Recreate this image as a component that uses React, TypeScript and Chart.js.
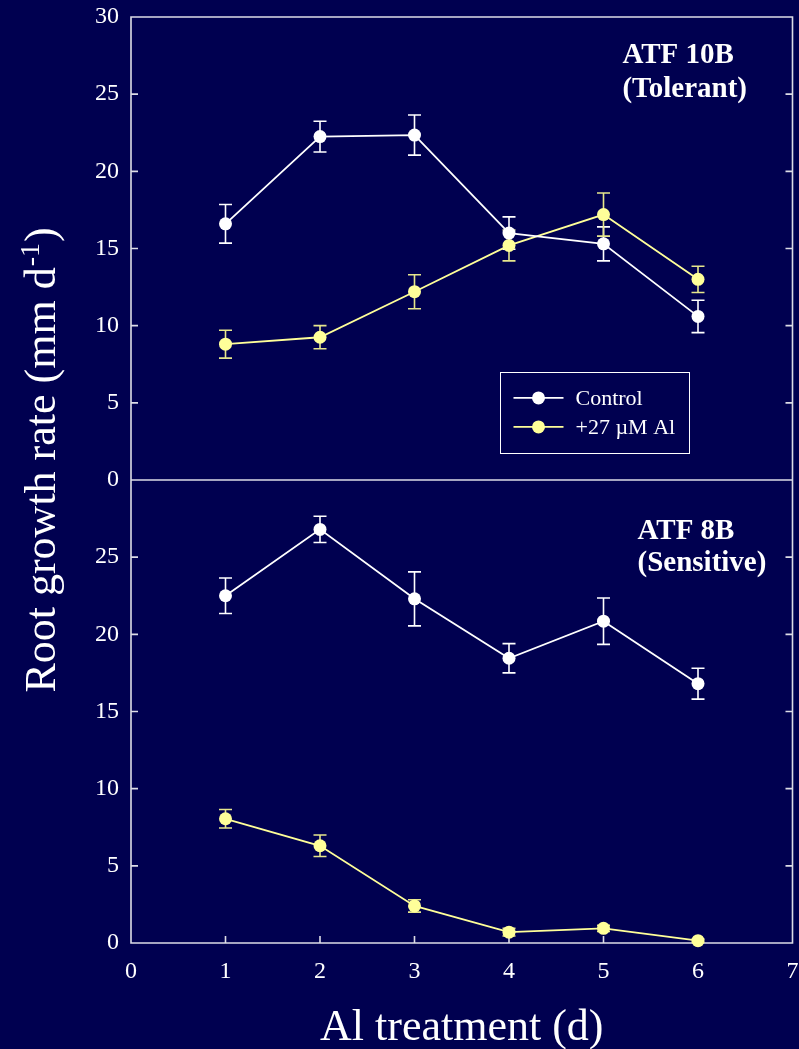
import React, { useEffect, useRef } from 'react';
import { Chart, registerables } from 'chart.js';

Chart.register(...registerables);

const BG = '#000050';
const WHITE = '#ffffff';
const FRAME = '#dcdce6';
const YELLOW = '#ffff99';
const YELLOW_BAR = '#e6e68c';
const FONT = '"Liberation Serif", "Times New Roman", Times, serif';

// ---- data ----
const days = [1, 2, 3, 4, 5, 6];
const xTickValues = [0, 1, 2, 3, 4, 5, 6, 7];
const yTickValues = [0, 5, 10, 15, 20, 25, 30];

const tolerantControl = [16.6, 22.25, 22.35, 16.0, 15.3, 10.6];
const tolerantControlErr = [1.25, 1.0, 1.3, 1.05, 1.1, 1.05];
const tolerantAl = [8.8, 9.25, 12.2, 15.2, 17.2, 13.0];
const tolerantAlErr = [0.9, 0.75, 1.1, 1.0, 1.4, 0.85];

const sensitiveControl = [22.5, 26.8, 22.3, 18.45, 20.85, 16.8];
const sensitiveControlErr = [1.15, 0.85, 1.75, 0.95, 1.5, 1.0];
const sensitiveAl = [8.05, 6.3, 2.4, 0.7, 0.95, 0.15];
const sensitiveAlErr = [0.6, 0.7, 0.4, 0.25, 0.2, 0.1];

const seriesLabels = ['Control', '+27 \u00B5M Al'];
const panelTitles = [
  ['ATF 10B', '(Tolerant)'],
  ['ATF 8B', '(Sensitive)'],
];
const xTitle = 'Al treatment (d)';
const yTitleMain = 'Root growth rate (mm d';
const yTitleSup = '-1';
const yTitleEnd = ')';

const pts = (vals: number[]) => days.map((d, i) => ({ x: d, y: vals[i] }));

const mkDataset = (label: string, vals: number[], errs: number[], color: string, barColor: string, axis: string) => ({
  label,
  data: pts(vals),
  errors: errs,
  barColor,
  yAxisID: axis,
  borderColor: color,
  backgroundColor: color,
  pointBackgroundColor: color,
  pointBorderColor: color,
  pointRadius: 6.5,
  pointBorderWidth: 0,
  borderWidth: 1.8,
  tension: 0,
  clip: false as any,
});

const zeroPad = (s: any) => {
  s.paddingTop = 0;
  s.paddingBottom = 0;
  s.paddingLeft = 0;
  s.paddingRight = 0;
};

const framePlugin = {
  id: 'frameAndBars',
  beforeDraw(chart: any) {
    const { ctx } = chart;
    ctx.save();
    ctx.fillStyle = BG;
    ctx.fillRect(0, 0, chart.width, chart.height);
    ctx.restore();
  },
  beforeDatasetsDraw(chart: any) {
    const { ctx, chartArea: ca, scales } = chart;
    const x = scales.x;
    const yTop = scales.yTop;
    const yBot = scales.yBot;
    const tick = 7;
    ctx.save();
    ctx.strokeStyle = FRAME;
    ctx.lineWidth = 1.6;
    ctx.beginPath();
    ctx.rect(ca.left, ca.top, ca.right - ca.left, ca.bottom - ca.top);
    const mid = yTop.getPixelForValue(0);
    ctx.moveTo(ca.left, mid);
    ctx.lineTo(ca.right, mid);
    for (const s of [yTop, yBot]) {
      for (const v of yTickValues) {
        if (v === 0 || v === 30) continue;
        const py = s.getPixelForValue(v);
        ctx.moveTo(ca.left, py);
        ctx.lineTo(ca.left + tick, py);
        ctx.moveTo(ca.right, py);
        ctx.lineTo(ca.right - tick, py);
      }
    }
    for (const v of xTickValues) {
      if (v === 0 || v === 7) continue;
      const px = x.getPixelForValue(v);
      ctx.moveTo(px, ca.bottom);
      ctx.lineTo(px, ca.bottom - tick);
    }
    ctx.stroke();

    // error bars
    chart.data.datasets.forEach((ds: any, i: number) => {
      const meta = chart.getDatasetMeta(i);
      const ys = scales[meta.yAxisID];
      ctx.strokeStyle = ds.barColor;
      ctx.lineWidth = 1.6;
      ctx.beginPath();
      ds.data.forEach((p: any, j: number) => {
        const e = ds.errors[j];
        const px = x.getPixelForValue(p.x);
        const hi = ys.getPixelForValue(p.y + e);
        const lo = ys.getPixelForValue(Math.max(0, p.y - e));
        ctx.moveTo(px, hi);
        ctx.lineTo(px, lo);
        ctx.moveTo(px - 6.5, hi);
        ctx.lineTo(px + 6.5, hi);
        ctx.moveTo(px - 6.5, lo);
        ctx.lineTo(px + 6.5, lo);
      });
      ctx.stroke();
    });
    ctx.restore();
  },
  afterDraw(chart: any) {
    const { ctx, chartArea: ca, scales } = chart;
    const x = scales.x;
    const yTop = scales.yTop;
    const yBot = scales.yBot;
    ctx.save();
    ctx.fillStyle = WHITE;

    // panel titles
    ctx.font = `bold 29px ${FONT}`;
    ctx.textAlign = 'left';
    ctx.textBaseline = 'alphabetic';
    ctx.fillText(panelTitles[0][0], x.getPixelForValue(5.2), yTop.getPixelForValue(27.0));
    ctx.fillText(panelTitles[0][1], x.getPixelForValue(5.2), yTop.getPixelForValue(24.8));
    ctx.fillText(panelTitles[1][0], x.getPixelForValue(5.36), yBot.getPixelForValue(26.2));
    ctx.fillText(panelTitles[1][1], x.getPixelForValue(5.36), yBot.getPixelForValue(24.1));

    // legend
    const lx0 = x.getPixelForValue(3.91);
    const lx1 = x.getPixelForValue(5.905);
    const ly0 = yTop.getPixelForValue(7.0);
    const ly1 = yTop.getPixelForValue(1.75);
    ctx.strokeStyle = WHITE;
    ctx.lineWidth = 1;
    ctx.strokeRect(Math.round(lx0) + 0.5, Math.round(ly0) + 0.5, Math.round(lx1 - lx0), Math.round(ly1 - ly0));
    const rows = [ly0 + 26, ly0 + 55];
    [0, 1].forEach((k) => {
      const ds = chart.data.datasets[k];
      const ry = rows[k];
      ctx.strokeStyle = ds.borderColor;
      ctx.lineWidth = 1.8;
      ctx.beginPath();
      ctx.moveTo(lx0 + 13, ry);
      ctx.lineTo(lx0 + 63, ry);
      ctx.stroke();
      ctx.fillStyle = ds.pointBackgroundColor;
      ctx.beginPath();
      ctx.arc(lx0 + 38, ry, 6.5, 0, Math.PI * 2);
      ctx.fill();
      ctx.fillStyle = WHITE;
      ctx.font = `22px ${FONT}`;
      ctx.textAlign = 'left';
      ctx.textBaseline = 'middle';
      ctx.fillText(ds.label, lx0 + 75, ry + 1);
    });

    // x title
    ctx.fillStyle = WHITE;
    ctx.font = `44px ${FONT}`;
    ctx.textAlign = 'center';
    ctx.textBaseline = 'alphabetic';
    ctx.fillText(xTitle, (ca.left + ca.right) / 2, 1040);

    // y title with superscript
    ctx.save();
    ctx.translate(55, 460);
    ctx.rotate(-Math.PI / 2);
    ctx.font = `44px ${FONT}`;
    const w1 = ctx.measureText(yTitleMain).width;
    ctx.font = `28px ${FONT}`;
    const w2 = ctx.measureText(yTitleSup).width;
    ctx.font = `44px ${FONT}`;
    const w3 = ctx.measureText(yTitleEnd).width;
    const total = w1 + w2 + w3 + 2;
    let cx = -total / 2;
    ctx.textAlign = 'left';
    ctx.fillText(yTitleMain, cx, 0);
    cx += w1 + 1;
    ctx.font = `28px ${FONT}`;
    ctx.fillText(yTitleSup, cx, -16);
    cx += w2 + 1;
    ctx.font = `44px ${FONT}`;
    ctx.fillText(yTitleEnd, cx, 0);
    ctx.restore();

    ctx.restore();
  },
};

const yScale = (hideTop: boolean) => ({
  type: 'linear',
  position: 'left',
  stack: 'rate',
  stackWeight: 1,
  min: 0,
  max: 30,
  afterBuildTicks: (s: any) => {
    s.ticks = yTickValues.map((v) => ({ value: v }));
  },
  afterFit: (s: any) => {
    s.width = 131;
    zeroPad(s);
  },
  grid: { display: false, drawTicks: false },
  border: { display: false },
  ticks: {
    color: WHITE,
    padding: 12,
    font: { family: FONT, size: 24 },
    callback: (v: any) => (hideTop && v === 30 ? '' : String(v)),
  },
});

export default function App() {
  const ref = useRef<HTMLCanvasElement | null>(null);
  useEffect(() => {
    if (!ref.current) return;
    const chart = new Chart(ref.current, {
      type: 'line',
      data: {
        datasets: [
          mkDataset(seriesLabels[0], tolerantControl, tolerantControlErr, WHITE, WHITE, 'yTop'),
          mkDataset(seriesLabels[1], tolerantAl, tolerantAlErr, YELLOW, YELLOW_BAR, 'yTop'),
          mkDataset(seriesLabels[0], sensitiveControl, sensitiveControlErr, WHITE, WHITE, 'yBot'),
          mkDataset(seriesLabels[1], sensitiveAl, sensitiveAlErr, YELLOW, YELLOW_BAR, 'yBot'),
        ] as any,
      },
      options: {
        responsive: false,
        animation: false,
        devicePixelRatio: 1,
        layout: { padding: { left: 0, top: 17, right: 6, bottom: 0 } },
        plugins: {
          legend: { display: false },
          tooltip: { enabled: false },
        },
        scales: {
          x: {
            type: 'linear',
            position: 'bottom',
            min: 0,
            max: 7,
            afterBuildTicks: (s: any) => {
              s.ticks = xTickValues.map((v) => ({ value: v }));
            },
            afterFit: (s: any) => {
              s.height = 106;
              zeroPad(s);
            },
            grid: { display: false, drawTicks: false },
            border: { display: false },
            ticks: {
              color: WHITE,
              padding: 14,
              maxRotation: 0,
              font: { family: FONT, size: 24 },
              callback: (v: any) => String(v),
            },
          },
          yBot: yScale(true),
          yTop: yScale(false),
        } as any,
      },
      plugins: [framePlugin],
    });
    return () => chart.destroy();
  }, []);

  return (
    <div style={{ position: 'fixed', left: 0, top: 0, width: 799, height: 1049, background: BG }}>
      <canvas ref={ref} width={799} height={1049} style={{ display: 'block', width: 799, height: 1049 }} />
    </div>
  );
}
